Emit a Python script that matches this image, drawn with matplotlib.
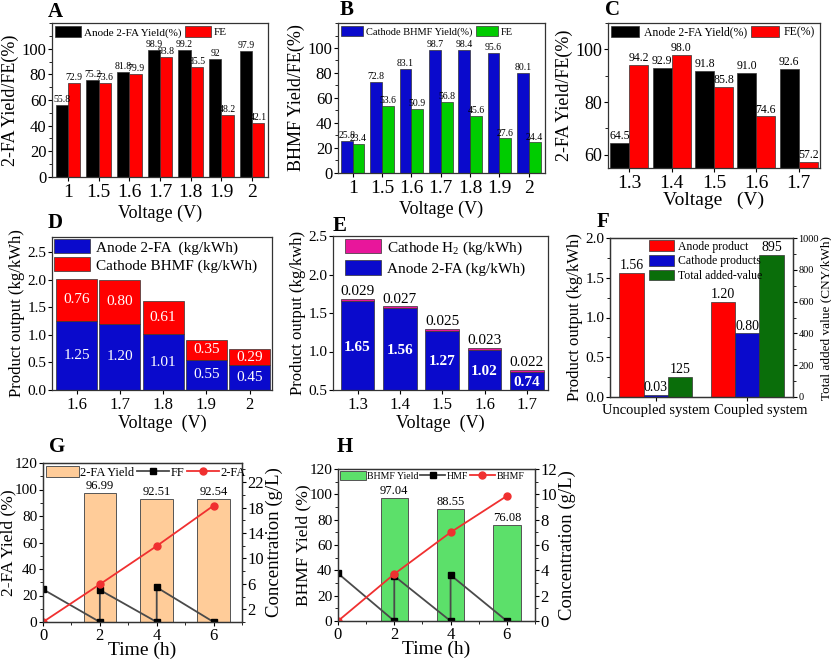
import matplotlib
matplotlib.use('Agg')
import matplotlib.pyplot as plt
import matplotlib.transforms as mtransforms
import numpy as np
from matplotlib.ticker import MultipleLocator, FormatStrFormatter

plt.rcParams['font.family'] = ['Liberation Serif', 'DejaVu Serif']
plt.rcParams['mathtext.fontset'] = 'custom'
plt.rcParams['mathtext.rm'] = 'Liberation Serif'
plt.rcParams['mathtext.it'] = 'Liberation Serif:italic'
plt.rcParams['axes.edgecolor'] = '#333333'
plt.rcParams['axes.linewidth'] = 0.9

# ---------------- data ----------------
a_volt = ['1', '1.5', '1.6', '1.7', '1.8', '1.9', '2']
a_yield = [55.8, 75.2, 81.8, 98.9, 99.2, 92, 97.9]
a_fe = [72.9, 73.6, 79.9, 93.8, 85.5, 48.2, 42.1]

b_volt = ['1', '1.5', '1.6', '1.7', '1.8', '1.9', '2']
b_yield = [25.8, 72.8, 83.1, 98.7, 98.4, 95.6, 80.1]
b_fe = [23.4, 53.6, 50.9, 56.8, 45.6, 27.6, 24.4]

c_volt = ['1.3', '1.4', '1.5', '1.6', '1.7']
c_yield = [64.5, 92.9, 91.8, 91.0, 92.6]
c_fe = [94.2, 98.0, 85.8, 74.6, 57.2]

d_volt = ['1.6', '1.7', '1.8', '1.9', '2']
d_anode = [1.25, 1.20, 1.01, 0.55, 0.45]
d_cathode = [0.76, 0.80, 0.61, 0.35, 0.29]

e_volt = ['1.3', '1.4', '1.5', '1.6', '1.7']
e_anode = [1.65, 1.56, 1.27, 1.02, 0.74]
e_h2 = [0.029, 0.027, 0.025, 0.023, 0.022]

f_systems = ['Uncoupled system', 'Coupled system']
f_anode = [1.56, 1.20]
f_cathode = [0.03, 0.80]
f_value = [125, 895]

g_bar_t = [2, 4, 6]
g_yield = [96.99, 92.51, 92.54]
g_ff_t = [0, 2, 2, 4, 4, 6]
g_ff = [5.14, 0, 5.04, 0, 5.45, 0]
g_fa_t = [0, 2, 4, 6]
g_fa = [0, 5.93, 11.95, 18.3]

h_bar_t = [2, 4, 6]
h_yield = [97.04, 88.55, 76.08]
h_hmf_t = [0, 2, 2, 4, 4, 6]
h_hmf = [3.76, 0, 3.55, 0, 3.63, 0]
h_bhmf_t = [0, 2, 4, 6]
h_bhmf = [0, 3.71, 7.0, 9.87]

# ---------------- colors ----------------
BLACK = '#000000'
RED = '#FF0000'
BLUE = '#0A0ACC'
GREEN = '#00CC00'
MAGENTA = '#E8169B'
DKGREEN = '#0A6E0A'
PEACH = '#FFCC99'
LGREEN = '#5CE06A'
EDGE = '#333333'

W, H = 831, 659
fig = plt.figure(figsize=(W / 100, H / 100), dpi=100)


def add_ax(x0, y0, x1, y1):
    return fig.add_axes([x0 / W, 1 - y1 / H, (x1 - x0) / W, (y1 - y0) / H])


def letter(x, y, s):
    fig.text(x / W, 1 - y / H, s, fontsize=15, fontweight='bold', ha='center', va='center')


def style(ax, xfs=13, yfs=11):
    ax.tick_params(axis='x', labelsize=xfs, length=3, width=0.8, pad=2)
    ax.tick_params(axis='y', labelsize=yfs, length=3, width=0.8, pad=1)
    ax.tick_params(which='minor', length=2, width=0.6)


# ---------------- A ----------------
ax = add_ax(52, 23, 268, 177)
x = np.arange(len(a_volt))
ax.bar(x - 0.2, a_yield, 0.4, color=BLACK, edgecolor=EDGE, lw=0.5, label='Anode 2-FA Yield(%)')
ax.bar(x + 0.2, a_fe, 0.4, color=RED, edgecolor=EDGE, lw=0.5, label='FE')
for xi, v in zip(x, a_yield):
    ax.text(xi - 0.2, v + 0.8, f'{v:g}', ha='center', va='bottom', fontsize=7)
for xi, v in zip(x, a_fe):
    ax.text(xi + 0.2, v + 0.8, f'{v:g}', ha='center', va='bottom', fontsize=7)
ax.set_xlim(-0.52, 6.52)
ax.set_ylim(0, 120)
ax.set_xticks(x)
ax.set_xticklabels(a_volt)
ax.set_yticks(range(0, 101, 20))
ax.yaxis.set_minor_locator(MultipleLocator(10))
ax.set_ylabel('2-FA Yield/FE(%)', fontsize=13, labelpad=2)
ax.set_xlabel('Voltage (V)', fontsize=13, labelpad=3)
style(ax, 14, 12)
ax.legend(loc='upper left', ncol=2, frameon=False, fontsize=8, handlelength=2.3, handleheight=1.1,
          columnspacing=0.3, handletextpad=0.3, borderaxespad=0.1, borderpad=0.2)
letter(55, 12, 'A')

# ---------------- B ----------------
ax = add_ax(338, 23, 545, 173)
x = np.arange(len(b_volt))
ax.bar(x - 0.2, b_yield, 0.4, color=BLUE, edgecolor=EDGE, lw=0.5, label='Cathode BHMF Yield(%)')
ax.bar(x + 0.2, b_fe, 0.4, color=GREEN, edgecolor=EDGE, lw=0.5, label='FE')
for xi, v in zip(x, b_yield):
    ax.text(xi - 0.2, v + 0.8, f'{v:g}', ha='center', va='bottom', fontsize=7)
for xi, v in zip(x, b_fe):
    ax.text(xi + 0.2, v + 0.8, f'{v:g}', ha='center', va='bottom', fontsize=7)
ax.set_xlim(-0.5, 6.55)
ax.set_ylim(0, 120)
ax.set_xticks(x)
ax.set_xticklabels(b_volt)
ax.set_yticks(range(0, 101, 20))
ax.yaxis.set_minor_locator(MultipleLocator(10))
ax.set_ylabel('BHMF Yield/FE(%)', fontsize=13, labelpad=2)
ax.set_xlabel('Voltage (V)', fontsize=13, labelpad=3)
style(ax, 14, 12)
ax.legend(loc='upper left', ncol=2, frameon=False, fontsize=7.5, handlelength=2.1, handleheight=1.1,
          columnspacing=0.3, handletextpad=0.3, borderaxespad=0.1, borderpad=0.2)
letter(347, 10, 'B')

# ---------------- C ----------------
ax = add_ax(608, 23, 820, 168)
x = np.arange(len(c_volt))
ax.bar(x - 0.225, c_yield, 0.45, color=BLACK, edgecolor=EDGE, lw=0.5, label='Anode 2-FA Yield(%)')
ax.bar(x + 0.225, c_fe, 0.45, color=RED, edgecolor=EDGE, lw=0.5, label='FE(%)')
for xi, v in zip(x, c_yield):
    ax.text(xi - 0.225, v + 0.3, f'{v:.1f}', ha='center', va='bottom', fontsize=8.5)
for xi, v in zip(x, c_fe):
    ax.text(xi + 0.225, v + 0.3, f'{v:.1f}', ha='center', va='bottom', fontsize=8.5)
ax.set_xlim(-0.5, 4.5)
ax.set_ylim(55, 110)
ax.set_xticks(x)
ax.set_xticklabels(c_volt)
ax.set_yticks([60, 80, 100])
ax.yaxis.set_minor_locator(MultipleLocator(10))
ax.set_ylabel('2-FA Yield/FE(%)', fontsize=13, labelpad=2)
ax.set_xlabel('Voltage   (V)', fontsize=14, labelpad=0)
style(ax, 14, 13)
ax.legend(loc='upper left', ncol=2, frameon=False, fontsize=8.5, handlelength=2.4, handleheight=1.1,
          columnspacing=0.3, handletextpad=0.4, borderaxespad=0.1, borderpad=0.15)
letter(613, 10, 'C')

# ---------------- D ----------------
ax = add_ax(52, 237, 272, 390)
x = np.arange(len(d_volt))
ax.bar(x, d_anode, 0.95, color=BLUE, edgecolor=EDGE, lw=0.5, label='Anode 2-FA  (kg/kWh)')
ax.bar(x, d_cathode, 0.95, bottom=d_anode, color=RED, edgecolor=EDGE, lw=0.5, label='Cathode BHMF (kg/kWh)')
for xi, a, c in zip(x, d_anode, d_cathode):
    ax.text(xi, a / 2, f'{a:.2f}', ha='center', va='center', color='white', fontsize=11)
    ax.text(xi, a + c / 2, f'{c:.2f}', ha='center', va='center', color='white', fontsize=11)
ax.set_xlim(-0.57, 4.52)
ax.set_ylim(0, 2.77)
ax.set_xticks(x)
ax.set_xticklabels(d_volt)
ax.set_yticks(np.arange(0, 2.51, 0.5))
ax.yaxis.set_major_formatter(FormatStrFormatter('%.1f'))
ax.set_ylabel('Product output (kg/kWh)', fontsize=12, labelpad=2)
ax.set_xlabel('Voltage  (V)', fontsize=13, labelpad=1)
style(ax, 12, 11)
ax.legend(loc='upper left', ncol=1, frameon=False, fontsize=11, handlelength=2.35, handleheight=1.05,
          labelspacing=0.15, handletextpad=0.4, borderaxespad=0.05, borderpad=0.1)
letter(55, 223, 'D')

# ---------------- E ----------------
ax = add_ax(333, 236, 548, 390)
x = np.arange(len(e_volt))
ax.bar(x, e_anode, 0.8, color=BLUE, edgecolor=EDGE, lw=0.5, label='Anode 2-FA (kg/kWh)')
ax.bar(x, e_h2, 0.8, bottom=e_anode, color=MAGENTA, edgecolor=EDGE, lw=0.5, label='Cathode H$_2$ (kg/kWh)')
for xi, a, c in zip(x, e_anode, e_h2):
    ax.text(xi, (a + 0.5) / 2 - 0.02, f'{a:.2f}', ha='center', va='center',
            color='white', fontsize=11, fontweight='bold')
    ax.text(xi, a + c + 0.01, f'{c:.3f}', ha='center', va='bottom', fontsize=11)
ax.set_xlim(-0.58, 4.5)
ax.set_ylim(0.5, 2.5)
ax.set_xticks(x)
ax.set_xticklabels(e_volt)
ax.set_yticks(np.arange(0.5, 2.51, 0.5))
ax.yaxis.set_major_formatter(FormatStrFormatter('%.1f'))
ax.set_ylabel('Product output (kg/kwh)', fontsize=12, labelpad=2)
ax.set_xlabel('Voltage  (V)', fontsize=13, labelpad=1)
style(ax, 12, 11)
h, l = ax.get_legend_handles_labels()
ax.legend(h[::-1], l[::-1], loc='upper left', ncol=1, frameon=False, fontsize=11, handlelength=2.35,
          handleheight=1.05, labelspacing=0.25, handletextpad=0.4, borderaxespad=0.1, borderpad=0.1,
          bbox_to_anchor=(0.04, 1.0))
letter(340, 226, 'E')

# ---------------- F ----------------
ax = add_ax(610, 238, 793, 397)
ax2 = ax.twinx()
x = np.arange(len(f_systems))
bw = 0.265
b1 = ax.bar(x - bw, f_anode, bw, color=RED, edgecolor=EDGE, lw=0.5, label='Anode product')
b2 = ax.bar(x, f_cathode, bw, color=BLUE, edgecolor=EDGE, lw=0.5, label='Cathode products')
b3 = ax2.bar(x + bw, f_value, bw, color=DKGREEN, edgecolor=EDGE, lw=0.5, label='Total added-value')
for xi, v in zip(x, f_anode):
    ax.text(xi - bw, v + 0.01, f'{v:.2f}', ha='center', va='bottom', fontsize=10)
for xi, v in zip(x, f_cathode):
    ax.text(xi, v + 0.01, f'{v:.2f}', ha='center', va='bottom', fontsize=10)
for xi, v in zip(x, f_value):
    ax2.text(xi + bw, v + 5, f'{v:d}', ha='center', va='bottom', fontsize=10)
ax.set_xlim(-0.5, 1.5)
ax.set_ylim(0, 2.0)
ax2.set_ylim(0, 1000)
ax.set_xticks(x)
ax.set_xticklabels(f_systems)
ax.set_yticks(np.arange(0, 2.01, 0.5))
ax.yaxis.set_major_formatter(FormatStrFormatter('%.1f'))
ax.yaxis.set_minor_locator(MultipleLocator(0.25))
ax2.set_yticks(range(0, 1001, 200))
ax2.yaxis.set_minor_locator(MultipleLocator(100))
ax.set_ylabel('Product output (kg/kWh)', fontsize=12, labelpad=2)
ax2.set_ylabel('Total added value (CNY/kWh)', fontsize=9.5, labelpad=1)
style(ax, 10.5, 11)
for lab, dx in zip(ax.get_xticklabels(), [0, 14]):
    lab.set_transform(lab.get_transform() + mtransforms.ScaledTranslation(dx / 100, 0, fig.dpi_scale_trans))
ax2.tick_params(axis='y', labelsize=7.5, length=3, width=0.8, pad=1)
ax2.tick_params(which='minor', length=2, width=0.6)
ax2.legend([b1, b2, b3], ['Anode product', 'Cathode products', 'Total added-value'], loc='upper left',
           frameon=False, fontsize=8.5, handlelength=2.1, handleheight=1.0, labelspacing=0.2,
           handletextpad=0.4, borderaxespad=0.1, borderpad=0.1, bbox_to_anchor=(0.2, 1.0))
letter(603, 222, 'F')


# ---------------- G & H ----------------
def time_panel(box, bar_t, yld, bar_w, bar_color, bar_label, s_t, s_v, s_label, p_t, p_v, p_label,
               rmax, rticks, rminor, ylabel, rlabel, lfs, labfs):
    ax = add_ax(*box)
    ax2 = ax.twinx()
    bars = ax.bar(bar_t, yld, bar_w, color=bar_color, edgecolor='#555555', lw=0.7, label=bar_label)
    for t, v in zip(bar_t, yld):
        ax.text(t, v + 0.8, f'{v:.2f}', ha='center', va='bottom', fontsize=labfs)
    l1, = ax2.plot(s_t, s_v, '-', color='#4a4a4a', lw=1.3, marker='s', ms=4.5, mfc='black', mec='black',
                   label=s_label)
    l2, = ax2.plot(p_t, p_v, '-', color='#F03030', lw=1.3, marker='o', ms=5, mfc='#F03030', mec='#F03030',
                   label=p_label)
    ax.set_xlim(0, 7)
    ax.set_ylim(0, 120)
    ax2.set_ylim(0, rmax)
    ax.set_xticks([0, 2, 4, 6])
    ax.xaxis.set_minor_locator(MultipleLocator(1))
    ax.set_yticks(range(0, 121, 20))
    ax.yaxis.set_minor_locator(MultipleLocator(10))
    ax2.set_yticks(rticks)
    ax2.yaxis.set_minor_locator(MultipleLocator(rminor))
    ax.set_ylabel(ylabel, fontsize=12.5, labelpad=-1)
    ax2.set_ylabel(rlabel, fontsize=13.5, labelpad=1)
    ax.set_xlabel('Time (h)', fontsize=14, labelpad=-1)
    style(ax, 12, 11)
    ax.tick_params(axis='x', pad=1)
    ax2.tick_params(axis='y', labelsize=12, length=3, width=0.8, pad=1)
    ax2.tick_params(which='minor', length=2, width=0.6)
    ax2.legend([bars, l1, l2], [bar_label, s_label, p_label], loc='upper left', ncol=3, frameon=False,
               fontsize=lfs, handlelength=2.6, handleheight=1.0, columnspacing=0.15, handletextpad=0.15,
               borderaxespad=0.15, borderpad=0.1)
    return ax


time_panel((43, 463, 242, 622), g_bar_t, g_yield, 1.15, PEACH, '2-FA Yield', g_ff_t, g_ff, 'FF',
           g_fa_t, g_fa, '2-FA', 25, [2, 6, 10, 14, 18, 22], 2, '2-FA Yield (%)', 'Concentration (g/L)', 9, 9)
letter(57, 447, 'G')

time_panel((338, 469, 535, 621), h_bar_t, h_yield, 0.97, LGREEN, 'BHMF Yield', h_hmf_t, h_hmf, 'HMF',
           h_bhmf_t, h_bhmf, 'BHMF', 12, [0, 2, 4, 6, 8, 10, 12], 1, 'BHMF Yield (%)', 'Concentration (g/L)',
           7, 9)
letter(345, 447, 'H')

fig.savefig('out.png', dpi=100)
